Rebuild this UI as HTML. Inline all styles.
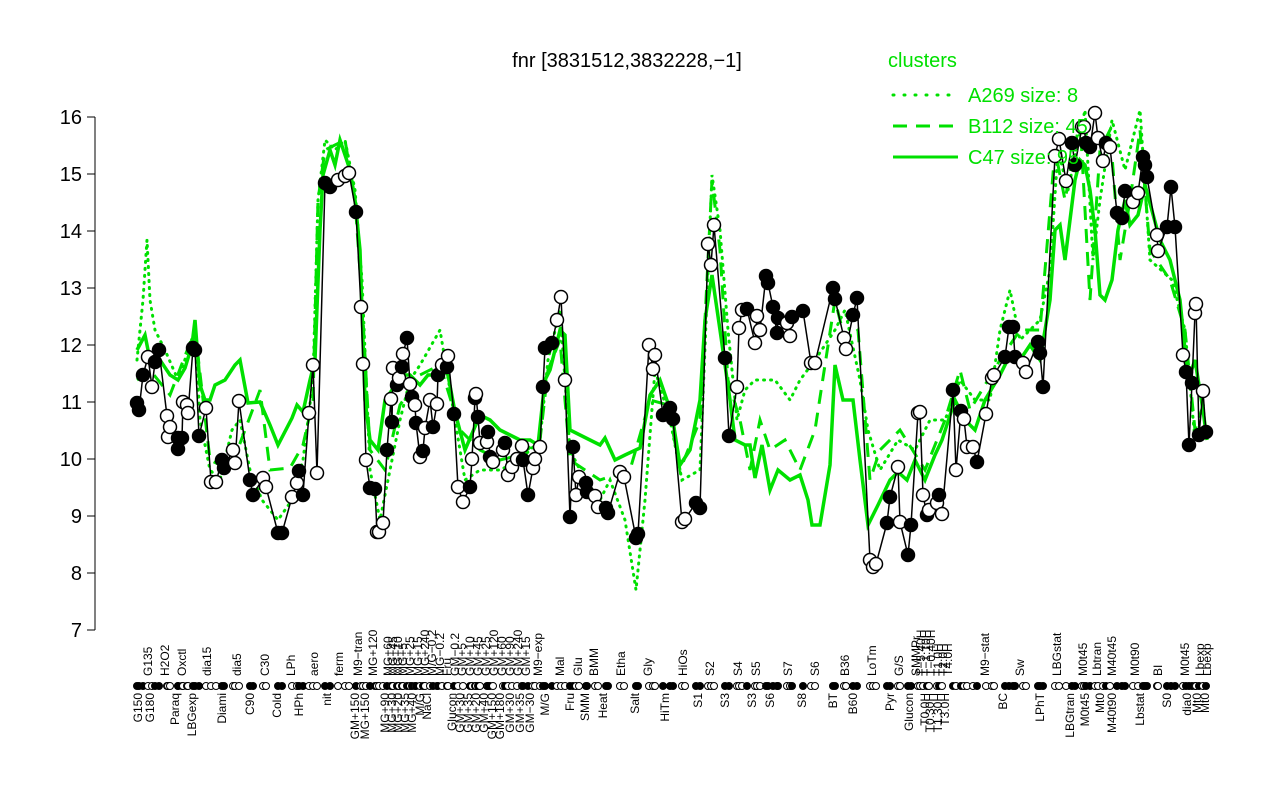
<!DOCTYPE html>
<html><head><meta charset="utf-8"><style>
body{margin:0;background:#fff}
svg{display:block}
text{font-family:"Liberation Sans",Arial,sans-serif}
</style></head><body>
<svg id="s" width="1280" height="800" viewBox="0 0 1280 800" xmlns="http://www.w3.org/2000/svg">
<rect width="1280" height="800" fill="#fff"/>
<text x="627" y="67" font-size="20" text-anchor="middle">fnr [3831512,3832228,−1]</text>
<g stroke="#000" stroke-width="1">
<line x1="95" y1="117" x2="95" y2="630"/>
<line x1="87" y1="117" x2="95" y2="117"/><line x1="87" y1="174" x2="95" y2="174"/>
<line x1="87" y1="231" x2="95" y2="231"/><line x1="87" y1="288" x2="95" y2="288"/>
<line x1="87" y1="345" x2="95" y2="345"/><line x1="87" y1="402" x2="95" y2="402"/>
<line x1="87" y1="459" x2="95" y2="459"/><line x1="87" y1="516" x2="95" y2="516"/>
<line x1="87" y1="573" x2="95" y2="573"/><line x1="87" y1="630" x2="95" y2="630"/>
</g>
<g font-size="20" text-anchor="end">
<text x="82" y="124">16</text><text x="82" y="181">15</text><text x="82" y="238">14</text>
<text x="82" y="295">13</text><text x="82" y="352">12</text><text x="82" y="409">11</text>
<text x="82" y="466">10</text><text x="82" y="523">9</text><text x="82" y="580">8</text><text x="82" y="637">7</text>
</g>
<g fill="none" stroke="#00e000">
<polyline stroke-width="3" stroke-dasharray="1 6" stroke-linecap="round" points="137,360 143,300 147,240 150,300 155,330 165,350 178,380 195,330 200,420 210,470 220,480 232,430 240,420 250,470 262,500 278,520 292,500 303,460 313,380 318,200 325,140 335,150 345,140 355,190 362,280 370,470 380,520 390,470 400,420 410,380 420,365 440,330 455,420 465,480 480,470 500,470 520,460 540,440 548,360 560,310 570,450 585,480 600,500 610,480 625,520 636,590 645,500 655,370 670,420 682,480 700,470 712,175 720,230 728,330 737,420 745,390 755,380 765,380 775,380 790,400 800,380 815,360 835,330 845,310 860,380 868,430 880,470 898,440 915,450 930,420 945,420 960,380 975,400 990,400 1000,330 1010,290 1020,340 1040,320 1050,270 1058,150 1068,190 1085,110 1093,260 1100,200 1112,120 1125,170 1140,110 1150,260 1172,280 1185,330 1195,440 1205,440"/>
<polyline stroke-width="3" stroke-dasharray="14 9" points="137,380 150,370 170,395 195,330 210,460 230,470 260,390 270,470 290,468 303,445 313,400 318,200 325,150 335,145 345,140 355,200 362,300 370,450 385,470 400,405 420,375 440,365 460,430 480,450 500,460 520,455 540,440 548,370 560,340 570,460 600,480 630,470 650,400 668,405 680,470 700,420 712,180 720,250 728,380 740,420 750,470 760,420 770,450 785,440 800,470 815,430 835,300 845,340 858,330 870,480 880,450 900,430 925,470 945,420 960,370 970,410 1000,360 1020,330 1040,330 1055,150 1065,200 1080,120 1090,300 1100,150 1110,130 1120,260 1130,200 1140,130 1150,250 1170,280 1185,330 1195,430 1205,400"/>
<polyline stroke-width="3.5" points="137,350 145,335 150,360 160,360 170,375 178,380 185,368 192,345 195,320 200,385 205,400 210,400 215,385 225,380 235,365 240,360 248,403 260,402 270,425 278,445 292,418 297,405 303,412 310,380 315,360 320,230 323,175 330,150 335,165 340,140 345,155 350,170 355,200 360,250 365,400 370,440 378,450 385,400 392,390 400,375 410,375 420,385 428,375 435,375 440,365 448,375 455,412 465,450 480,415 490,420 500,430 510,435 520,440 530,440 538,445 545,380 550,370 560,330 565,335 570,430 580,435 590,440 600,445 605,438 615,460 625,455 640,448 650,395 660,380 672,415 680,465 690,450 700,400 705,320 712,275 720,330 730,400 735,440 745,445 750,445 755,478 762,445 770,490 778,470 790,480 800,475 808,500 812,525 820,525 830,465 835,365 843,400 853,400 860,460 868,525 878,505 890,480 898,472 907,480 915,460 925,480 935,455 942,440 955,400 965,420 975,430 985,400 1000,375 1010,355 1020,360 1030,345 1040,360 1050,300 1055,230 1060,225 1065,260 1070,220 1075,180 1080,160 1085,165 1090,190 1095,230 1100,295 1105,300 1112,280 1118,230 1125,200 1130,225 1138,215 1145,185 1160,240 1170,260 1180,300 1188,380 1195,360 1203,410 1207,440"/>
</g>
<g id="pts"></g>
<g id="rug"></g>
<g id="labs" font-size="12"></g>
<g font-size="20" fill="#00e000">
<text x="888" y="67">clusters</text>
<text x="968" y="102">A269 size: 8</text>
<text x="968" y="133">B112 size: 45</text>
<text x="968" y="164">C47 size: 95</text>
</g>
<g stroke="#00e000" stroke-width="3">
<line x1="893" y1="95" x2="958" y2="95" stroke-dasharray="1 10" stroke-linecap="round"/>
<line x1="893" y1="126" x2="958" y2="126" stroke-dasharray="14 9"/>
<line x1="893" y1="157" x2="958" y2="157"/>
</g>
</svg>
<script>
(function(){
var P=[[137,403,1],[139,410,1],[143,375,1],[148,357,0],[152,387,0],[155,362,1],[159,350,1],[167,416,0],[168,437,0],[170,427,0],[178,438,1],[178,449,1],[182,438,1],[183,402,0],[187,405,0],[188,413,0],[193,348,1],[195,350,1],[199,436,1],[206,408,0],[211,482,0],[216,482,0],[222,460,1],[224,468,1],[233,450,0],[235,463,0],[239,401,0],[250,480,1],[253,495,1],[263,478,0],[266,487,0],[278,533,1],[282,533,1],[292,497,0],[297,483,0],[299,471,1],[303,495,1],[309,413,0],[313,365,0],[317,473,0],[325,183,1],[330,187,1],[338,180,0],[345,176,0],[349,173,0],[356,212,1],[361,307,0],[363,364,0],[366,460,0],[370,488,1],[375,489,1],[377,532,0],[379,532,0],[383,523,0],[387,450,1],[391,399,0],[392,422,1],[393,368,0],[397,385,1],[399,378,0],[402,367,1],[403,354,0],[407,338,1],[410,384,0],[412,397,1],[415,405,0],[416,423,1],[420,457,0],[423,451,1],[425,428,0],[430,400,0],[433,427,1],[437,404,0],[438,375,1],[442,365,0],[447,367,1],[448,356,0],[454,414,1],[458,487,0],[463,502,0],[470,487,1],[472,459,0],[475,398,1],[476,394,0],[478,417,1],[480,443,0],[487,442,0],[488,432,1],[490,457,1],[493,462,0],[503,450,0],[505,443,1],[508,475,0],[512,467,0],[517,459,0],[522,446,0],[523,460,1],[528,495,1],[533,468,0],[535,459,0],[540,447,0],[543,387,1],[545,348,1],[552,343,1],[557,320,0],[561,297,0],[565,380,0],[570,517,1],[573,447,1],[576,495,0],[579,477,0],[586,483,1],[587,492,1],[595,496,0],[598,507,0],[606,508,1],[608,513,1],[620,472,0],[624,477,0],[636,538,1],[638,534,1],[649,345,0],[653,369,0],[655,355,0],[663,415,1],[670,408,1],[673,419,1],[682,522,0],[685,519,0],[696,503,1],[700,508,1],[708,244,0],[711,265,0],[714,225,0],[725,358,1],[729,436,1],[737,387,0],[739,328,0],[742,310,0],[747,309,1],[755,343,0],[757,316,0],[760,330,0],[766,276,1],[768,283,1],[773,307,1],[777,333,1],[778,318,1],[787,323,0],[790,336,0],[792,317,1],[803,311,1],[811,363,0],[815,363,0],[833,288,1],[835,299,1],[844,338,0],[846,349,0],[853,315,1],[857,298,1],[870,560,0],[873,567,0],[876,564,0],[887,523,1],[890,497,1],[898,467,0],[900,522,0],[908,555,1],[911,525,1],[918,413,0],[920,412,0],[923,495,0],[927,515,1],[929,510,0],[937,503,0],[939,495,1],[942,514,0],[953,390,1],[956,470,0],[961,411,1],[964,419,0],[967,447,0],[973,447,0],[977,462,1],[986,414,0],[992,378,0],[994,375,0],[1005,357,1],[1009,327,1],[1013,327,1],[1015,357,1],[1023,363,0],[1026,372,0],[1038,342,1],[1040,353,1],[1043,387,1],[1055,156,0],[1059,139,0],[1066,181,0],[1072,143,1],[1075,165,1],[1082,127,0],[1084,127,0],[1086,143,1],[1090,147,1],[1095,113,0],[1098,138,0],[1103,161,0],[1106,143,1],[1110,147,0],[1117,213,1],[1122,218,1],[1125,191,1],[1133,202,0],[1138,193,0],[1143,157,1],[1145,165,1],[1147,177,1],[1157,235,0],[1158,251,0],[1167,227,1],[1171,187,1],[1175,227,1],[1183,355,0],[1186,372,1],[1189,445,1],[1192,383,1],[1195,313,0],[1196,304,0],[1199,435,1],[1203,391,0],[1206,432,1]];
var NS="http://www.w3.org/2000/svg";
function el(t,a,p){var e=document.createElementNS(NS,t);for(var k in a)e.setAttribute(k,a[k]);p.appendChild(e);return e;}
var g=document.getElementById("pts");
el("polyline",{points:P.map(function(p){return p[0]+","+p[1]}).join(" "),fill:"none",stroke:"#000","stroke-width":1.5},g);
P.forEach(function(p){el("circle",{cx:p[0],cy:p[1],r:6.5,fill:p[2]?"#000":"#fff",stroke:"#000","stroke-width":1.5},g);});
var r=document.getElementById("rug");
P.forEach(function(p){el("circle",{cx:p[0],cy:686,r:3.5,fill:p[2]?"#000":"#fff",stroke:"#000","stroke-width":1},r);});
var T1=[[148,"G135"],[165,"H2O2"],[182,"Oxctl"],[207,"dia15"],[237,"dia5"],[265,"C30"],[291,"LPh"],[314,"aero"],[339,"ferm"],[358,"M9−tran"],[373,"MG+120"],[388,"MG+60"],[393,"MG+45"],[398,"MG+10"],[403,"MG+5"],[410,"MG+25"],[418,"MG+15"],[425,"MG+240"],[432,"M/G−0.2"],[440,"MG−0.2"],[447,"Fru"],[455,"GM−0.2"],[462,"GM+5"],[470,"GM+10"],[478,"GM+45"],[486,"GM+25"],[494,"GM+120"],[502,"GM+60"],[510,"GM+90"],[518,"GM+240"],[526,"GM+15"],[538,"M9−exp"],[560,"Mal"],[578,"Glu"],[594,"BMM"],[621,"Etha"],[648,"Gly"],[683,"HiOs"],[710,"S2"],[738,"S4"],[756,"S5"],[788,"S7"],[815,"S6"],[845,"B36"],[872,"LoTm"],[899,"G/S"],[916,"SMMPr"],[921,"T−5.40H"],[926,"T−1.10H"],[931,"T−0.40H"],[938,"T1.0H"],[943,"T2.0H"],[948,"T4.0H"],[985,"M9−stat"],[1020,"Sw"],[1057,"LBGstat"],[1083,"M0t45"],[1097,"Lbtran"],[1112,"M40t45"],[1135,"M0t90"],[1158,"BI"],[1185,"M0t45"],[1200,"Lbexp"],[1207,"Lbexp"]];
var B1=[[138,"G150"],[150,"G180"],[175,"Paraq"],[192,"LBGexp"],[222,"Diami"],[250,"C90"],[277,"Cold"],[299,"HPh"],[327,"nit"],[355,"GM+150"],[365,"MG+150"],[385,"MG+90"],[392,"MG+30"],[398,"MG+20"],[405,"MG+35"],[412,"MG+40"],[420,"M/G"],[427,"NaCl"],[452,"Glucon"],[460,"GM+30"],[468,"GM+35"],[476,"GM+20"],[484,"GM+40"],[492,"GM+150"],[500,"GM+180"],[510,"GM+30"],[520,"GM+35"],[530,"GM−30"],[545,"M/G"],[570,"Fru"],[585,"SMM"],[603,"Heat"],[635,"Salt"],[665,"HiTm"],[698,"S1"],[725,"S3"],[752,"S3"],[770,"S6"],[802,"S8"],[833,"BT"],[853,"B60"],[890,"Pyr"],[909,"Glucon"],[925,"T0.0H"],[930,"T0.30H"],[938,"T1.30H"],[945,"T3.0H"],[1003,"BC"],[1040,"LPhT"],[1070,"LBGtran"],[1085,"M0t45"],[1100,"Mt0"],[1112,"M40t90"],[1140,"Lbstat"],[1167,"S0"],[1187,"dia0"],[1197,"Mt0"],[1205,"Mt0"]];
var L=document.getElementById("labs");
T1.forEach(function(t){var e=el("text",{transform:"translate("+(t[0]+4)+",676) rotate(-90)","text-anchor":"start"},L);e.textContent=t[1];});
B1.forEach(function(t){var e=el("text",{transform:"translate("+(t[0]+4)+",693) rotate(-90)","text-anchor":"end"},L);e.textContent=t[1];});
})();
</script>
</body></html>
